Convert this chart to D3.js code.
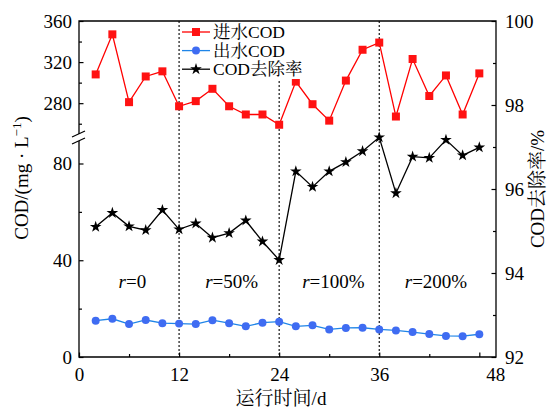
<!DOCTYPE html>
<html>
<head>
<meta charset="utf-8">
<script src="https://cdn.jsdelivr.net/npm/d3@7"></script>
<style>
  body { margin: 0; background: #fff; }
  text { font-family: "Times New Roman", "Liberation Serif", "Noto Serif CJK SC", "Noto Sans CJK SC", serif; fill: #000; }
</style>
</head>
<body>
<svg id="chart" width="550" height="408"></svg>
<script>
// operating day of each sample
const days = [2, 4, 6, 8, 10, 12, 14, 16, 18, 20, 22, 24, 26, 28, 30, 32, 34, 36, 38, 40, 42, 44, 46, 48]
// influent COD, mg/L (upper part of the left axis)
const influentCOD = [308, 347, 281, 306, 311, 277, 282, 294, 277, 269, 269, 259,
    301, 279, 263, 302, 332, 339, 267, 323, 287, 307, 269, 309]
// effluent COD, mg/L (lower part of the left axis)
const effluentCOD = [15.0, 15.8, 13.6, 15.3, 14.0, 13.8, 13.6, 15.2, 14.0, 12.7, 14.2, 14.6,
    12.7, 13.1, 11.4, 12.0, 12.1, 11.4, 11.0, 10.3, 9.5, 8.7, 8.6, 9.4]
// COD removal rate, % (right axis)
const removalRate = [95.10, 95.43, 95.11, 95.02, 95.50, 95.04, 95.18, 94.84, 94.95, 95.25, 94.75, 94.31,
    96.42, 96.05, 96.42, 96.64, 96.90, 97.23, 95.90, 96.77, 96.74, 97.17, 96.80, 96.99]

const phaseBreaks = [12, 24, 36]
const phaseLabels = ["0", "50%", "100%", "200%"]
const phaseLabelDays = [6.4, 18.3, 30.5, 42.8]

const xTicks = [0, 12, 24, 36, 48]
const xMinorTicks = [6, 18, 30, 42]
const upperTicks = [280, 320, 360]
const upperMinorTicks = [260, 300, 340]
const lowerTicks = [0, 40, 80]
const lowerMinorTicks = [20, 60]
const rightTicks = [92, 94, 96, 98, 100]
const rightMinorTicks = [93, 95, 97, 99]

const legendLabels = ["进水COD", "出水COD", "COD去除率"]

const config = {
    left: 79, right: 496, top: 21, bottom: 357,
    breakTop: 134, breakBottom: 141,
    fontSize: 19
}

const colors = { red: "#ff0000", redFill: "#ff1212", blueLine: "#1f85e8", blueFill: "#3f6cf2", black: "#000" }

const svg = d3.select("#chart")

const x = d3.scaleLinear().domain([0, 50]).range([config.left, config.right])
const yUpper = d3.scaleLinear().domain([250, 360]).range([config.breakTop, config.top])
const yLower = d3.scaleLinear().domain([0, 89.3]).range([config.bottom, config.breakBottom])
const yRight = d3.scaleLinear().domain([92, 100]).range([config.bottom, config.top])

// dotted phase separators
svg.append("g")
    .selectAll("line")
    .data(phaseBreaks)
    .join("line")
    .attr("x1", d => x(d)).attr("x2", d => x(d))
    .attr("y1", config.top).attr("y2", config.bottom)
    .attr("stroke", "#000")
    .attr("stroke-width", 1.1)
    .attr("stroke-dasharray", "2,2")

// axes (ticks pointing inward)
function styleAxis(g) {
    g.select(".domain").remove()
    g.selectAll("line").attr("stroke", "#000").attr("stroke-width", 1.2)
    g.selectAll("text").attr("font-size", config.fontSize)
        .style("font-family", "'Times New Roman', 'Liberation Serif', serif")
}

const xAxis = svg.append("g")
    .attr("transform", `translate(0,${config.bottom})`)
    .call(d3.axisBottom(x).tickValues(xTicks).tickSize(-4.5).tickPadding(11).tickFormat(d3.format("d")))
    .call(styleAxis)
xAxis.selectAll(".tick text").filter(d => d === 48).attr("dx", 16)

svg.append("g")
    .attr("transform", `translate(0,${config.bottom})`)
    .call(d3.axisBottom(x).tickValues(xMinorTicks).tickSize(-3).tickFormat(""))
    .call(styleAxis)

svg.append("g")
    .attr("transform", `translate(${config.left},0)`)
    .call(d3.axisLeft(yUpper).tickValues(upperTicks).tickSize(-4.5).tickPadding(7))
    .call(styleAxis)
svg.append("g")
    .attr("transform", `translate(${config.left},0)`)
    .call(d3.axisLeft(yUpper).tickValues(upperMinorTicks).tickSize(-3).tickFormat(""))
    .call(styleAxis)

svg.append("g")
    .attr("transform", `translate(${config.left},0)`)
    .call(d3.axisLeft(yLower).tickValues(lowerTicks).tickSize(-4.5).tickPadding(7))
    .call(styleAxis)
svg.append("g")
    .attr("transform", `translate(${config.left},0)`)
    .call(d3.axisLeft(yLower).tickValues(lowerMinorTicks).tickSize(-3).tickFormat(""))
    .call(styleAxis)

svg.append("g")
    .attr("transform", `translate(${config.right},0)`)
    .call(d3.axisRight(yRight).tickValues(rightTicks).tickSize(-4.5).tickPadding(9))
    .call(styleAxis)
svg.append("g")
    .attr("transform", `translate(${config.right},0)`)
    .call(d3.axisRight(yRight).tickValues(rightMinorTicks).tickSize(-3).tickFormat(""))
    .call(styleAxis)

// frame, with the left axis split at the break
const frame = svg.append("g").attr("stroke", "#000").attr("stroke-width", 1.3).attr("fill", "none")
frame.append("path").attr("d",
    `M${config.left},${config.breakTop}V${config.top}H${config.right}V${config.bottom}H${config.left}V${config.breakBottom}`)
frame.append("line")
    .attr("x1", config.left - 7).attr("y1", config.breakTop + 3)
    .attr("x2", config.left + 6).attr("y2", config.breakTop - 3)
frame.append("line")
    .attr("x1", config.left - 7).attr("y1", config.breakBottom + 3)
    .attr("x2", config.left + 6).attr("y2", config.breakBottom - 3)

// phase labels
svg.append("g")
    .selectAll("text")
    .data(phaseLabels)
    .join("text")
    .attr("x", (d, i) => x(phaseLabelDays[i]))
    .attr("y", 288)
    .attr("text-anchor", "middle")
    .attr("font-size", config.fontSize)
    .call(t => {
        t.append("tspan").attr("font-style", "italic").text("r")
        t.append("tspan").text(d => "=" + d)
    })

// series
const seriesDefs = [
    { values: influentCOD, y: yUpper, line: colors.red, fill: colors.redFill, symbol: d3.symbolSquare, size: 64 },
    { values: effluentCOD, y: yLower, line: colors.blueLine, fill: colors.blueFill, symbol: d3.symbolCircle, size: 50 },
    { values: removalRate, y: yRight, line: colors.black, fill: colors.black, symbol: d3.symbolStar, size: 42 }
]

seriesDefs.forEach(s => {
    const line = d3.line()
        .x((d, i) => x(days[i]))
        .y(d => s.y(d))

    svg.append("path")
        .datum(s.values)
        .attr("fill", "none")
        .attr("stroke", s.line)
        .attr("stroke-width", 1.3)
        .attr("d", line)

    svg.append("g")
        .selectAll("path")
        .data(s.values)
        .join("path")
        .attr("d", d3.symbol().type(s.symbol).size(s.size))
        .attr("transform", (d, i) => `translate(${x(days[i])},${s.y(d)})`)
        .attr("fill", s.fill)
})

// legend
const legend = svg.append("g")
legend.append("rect")
    .attr("x", 181).attr("y", 22).attr("width", 136).attr("height", 57)
    .attr("fill", "#fff")

legendLabels.forEach((label, i) => {
    const s = seriesDefs[i]
    const cy = 32 + i * 18.6
    legend.append("line")
        .attr("x1", 182).attr("x2", 210)
        .attr("y1", cy).attr("y2", cy)
        .attr("stroke", s.line).attr("stroke-width", 1.3)
    legend.append("path")
        .attr("d", d3.symbol().type(s.symbol).size(s.size))
        .attr("transform", `translate(196,${cy})`)
        .attr("fill", s.fill)
    legend.append("text")
        .attr("x", 213).attr("y", cy + 6)
        .attr("font-size", 17.5)
        .text(label)
})

// axis titles
svg.append("text")
    .attr("transform", "translate(28,178) rotate(-90)")
    .attr("text-anchor", "middle")
    .attr("font-size", config.fontSize)
    .call(t => {
        t.append("tspan").text("COD/(mg · L")
        t.append("tspan").attr("dy", -7).attr("font-size", 13).text("−1")
        t.append("tspan").attr("dy", 7).text(")")
    })

svg.append("text")
    .attr("transform", "translate(544,189) rotate(-90)")
    .attr("text-anchor", "middle")
    .attr("font-size", config.fontSize)
    .text("COD去除率/%")

svg.append("text")
    .attr("x", 281).attr("y", 405)
    .attr("text-anchor", "middle")
    .attr("font-size", config.fontSize)
    .text("运行时间/d")
</script>
</body>
</html>
